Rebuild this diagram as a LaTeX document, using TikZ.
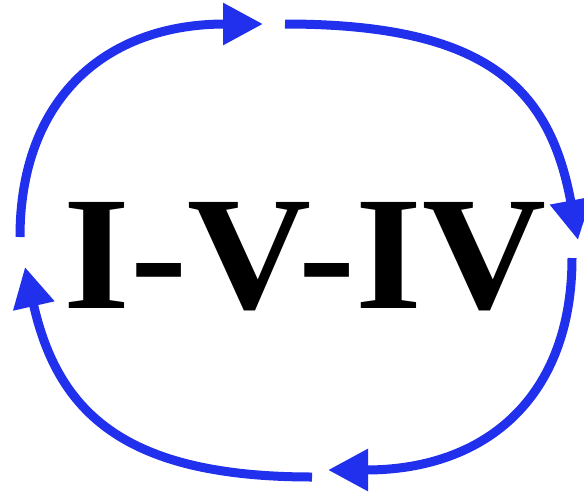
\documentclass[tikz,border=0pt]{standalone}
\usepackage{fontspec}
\setmainfont{Liberation Serif}
\usepackage{xcolor}
\usetikzlibrary{arrows.meta,positioning}
\definecolor{loopblue}{RGB}{32,48,236}

\begin{document}
\begin{tikzpicture}[x=1pt, y=-1pt,
  arr/.style={line width=9pt, draw=loopblue,
              -{Triangle[length=40pt, width=40pt]}},
  label/.style={font=\fontsize{162}{162}\selectfont\bfseries, inner sep=0pt}
]
\useasboundingbox (0,0) rectangle (584,496);

\node[label, anchor=base] (prog) at (305,308) {\scalebox{1.06}[1]{I-V-IV}};

% ends of the four arcs
\coordinate (s1) at (20,237);  \coordinate (e1) at (263,24);
\coordinate (s2) at (285,24);  \coordinate (e2) at (578,240);
\coordinate (s3) at (572,258); \coordinate (e3) at (328,470);
\coordinate (s4) at (312,477); \coordinate (e4) at (25,267);

\draw[arr] (s1) .. controls (20,99) and (105,24) .. (e1);
\draw[arr] (s2) .. controls (490,24) and (550,90) .. (e2);
\draw[arr] (s3) .. controls (572,396) and (487,470) .. (e3);
\draw[arr] (s4) .. controls (125,477) and (58,413) .. (e4);
\end{tikzpicture}
\end{document}
